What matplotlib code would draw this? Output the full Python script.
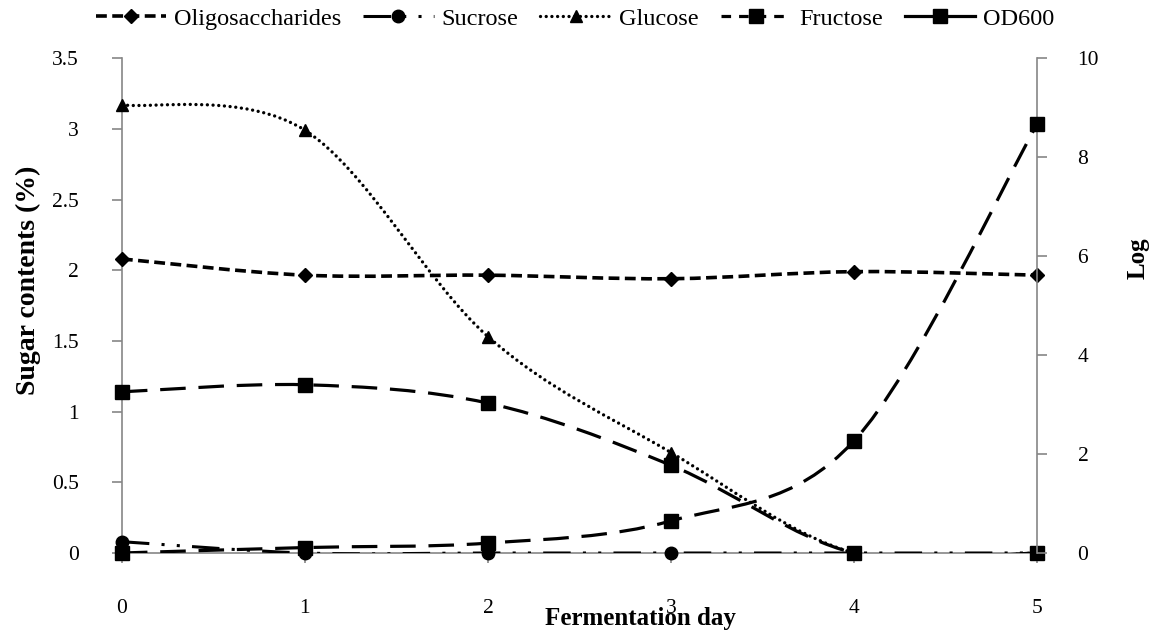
import matplotlib
matplotlib.use("Agg")
import matplotlib.pyplot as plt
from matplotlib.path import Path
from matplotlib.patches import PathPatch
from matplotlib.lines import Line2D

plt.rcParams['font.family'] = ['Liberation Serif', 'DejaVu Serif']

days = [0, 1, 2, 3, 4, 5]
oligosaccharides = [2.08, 1.965, 1.965, 1.94, 1.99, 1.965]
sucrose = [0.08, 0.0, 0.0, 0.0, 0.0, 0.0]
glucose = [3.17, 2.99, 1.53, 0.71, 0.0, 0.0]
fructose = [1.14, 1.19, 1.06, 0.62, 0.0, 0.0]
od600 = [0.0, 0.11, 0.2, 0.65, 2.27, 8.67]
labels = ["Oligosaccharides", "Sucrose", "Glucose", "Fructose", "OD600"]

GRAY = "#868686"

# line styles: (dash pattern, width, marker, marker size, cap)
styles = {
    "Oligosaccharides": ((3, 1.5), 2.6, "D", 7, "butt"),
    "Sucrose": ((9, 4, 1, 4, 1, 4), 2.2, "o", 9, "butt"),
    "Glucose": ((0.01, 1.7), 2.4, "^", 9, "round"),
    "Fructose": ((8, 4), 2.3, "s", 9.5, "butt"),
    "OD600": ((8, 4), 2.3, "s", 9.5, "butt"),
}


def smooth_path(xs, ys):
    # bezier segments like a spreadsheet "smoothed line"
    n = len(xs)
    verts = [(xs[0], ys[0])]
    codes = [Path.MOVETO]
    for i in range(n - 1):
        a = max(i - 1, 0)
        b = min(i + 2, n - 1)
        c1 = (xs[i] + (xs[i + 1] - xs[a]) / 6, ys[i] + (ys[i + 1] - ys[a]) / 6)
        c2 = (xs[i + 1] - (xs[b] - xs[i]) / 6, ys[i + 1] - (ys[b] - ys[i]) / 6)
        verts += [c1, c2, (xs[i + 1], ys[i + 1])]
        codes += [Path.CURVE4] * 3
    return Path(verts, codes)


def draw(ax, ys, name, z):
    dashes, lw, marker, ms, cap = styles[name]
    patch = PathPatch(smooth_path(days, ys), fill=False, edgecolor="black",
                      linewidth=lw, linestyle=(0, dashes), zorder=z,
                      capstyle=cap)
    ax.add_patch(patch)
    ax.plot(days, ys, linestyle="none", marker=marker, markersize=ms,
            color="black", zorder=z + 0.5, clip_on=False)


fig = plt.figure(figsize=(11.5, 6.32), dpi=100)
ax = fig.add_axes([0.106, 0.125, 0.796, 0.783])
ax2 = ax.twinx()

draw(ax, oligosaccharides, "Oligosaccharides", 3)
draw(ax, sucrose, "Sucrose", 4)
draw(ax, glucose, "Glucose", 5)
draw(ax, fructose, "Fructose", 6)
draw(ax2, od600, "OD600", 7)

ax.set_xlim(0, 5)
ax.set_ylim(0, 3.5)
ax2.set_ylim(0, 10)
ax.set_xticks(days)
ax.set_yticks([0, 0.5, 1, 1.5, 2, 2.5, 3, 3.5])
ax.set_yticklabels(["0", "0.5", "1", "1.5", "2", "2.5", "3", "3.5"])
ax2.set_yticks([0, 2, 4, 6, 8, 10])

for a in (ax, ax2):
    a.spines["top"].set_visible(False)
    for s in ("left", "right", "bottom"):
        a.spines[s].set_color(GRAY)
        a.spines[s].set_linewidth(1.2)
    a.tick_params(axis="both", colors=GRAY, labelcolor="black", length=7,
                  width=1.2, labelsize=15.5)
ax.spines["right"].set_visible(False)
ax2.spines["left"].set_visible(False)
ax2.spines["bottom"].set_visible(False)
ax.tick_params(axis="x", pad=26)
ax.tick_params(axis="y", pad=24)
ax2.tick_params(axis="y", pad=22)

fig.text(28 / 1150, 1 - 280 / 632, "Sugar contents (%)", rotation=90,
         fontsize=20, fontweight="bold", ha="center", va="center")
fig.text(1138 / 1150, 1 - 258 / 632, "Log", rotation=90,
         fontsize=18, fontweight="bold", ha="center", va="center")
fig.text(640 / 1150, 1 - 619 / 632, "Fermentation day",
         fontsize=18, fontweight="bold", ha="center", va="center")

handles = []
for name in labels:
    dashes, lw, marker, ms, cap = styles[name]
    ls = "-" if name == "OD600" else (0, dashes)
    if name == "Fructose":
        ls = (0, (3, 2.5))
    handles.append(Line2D([], [], color="black", lw=lw, linestyle=ls,
                          marker=marker, ms=ms, dash_capstyle=cap))
fig.legend(handles, labels, loc="upper center", bbox_to_anchor=(0.5, 1.022),
           ncol=5, frameon=False, fontsize=17.5, handlelength=2.9,
           handletextpad=0.33, columnspacing=0.9)

fig.savefig("out.png", dpi=100)
